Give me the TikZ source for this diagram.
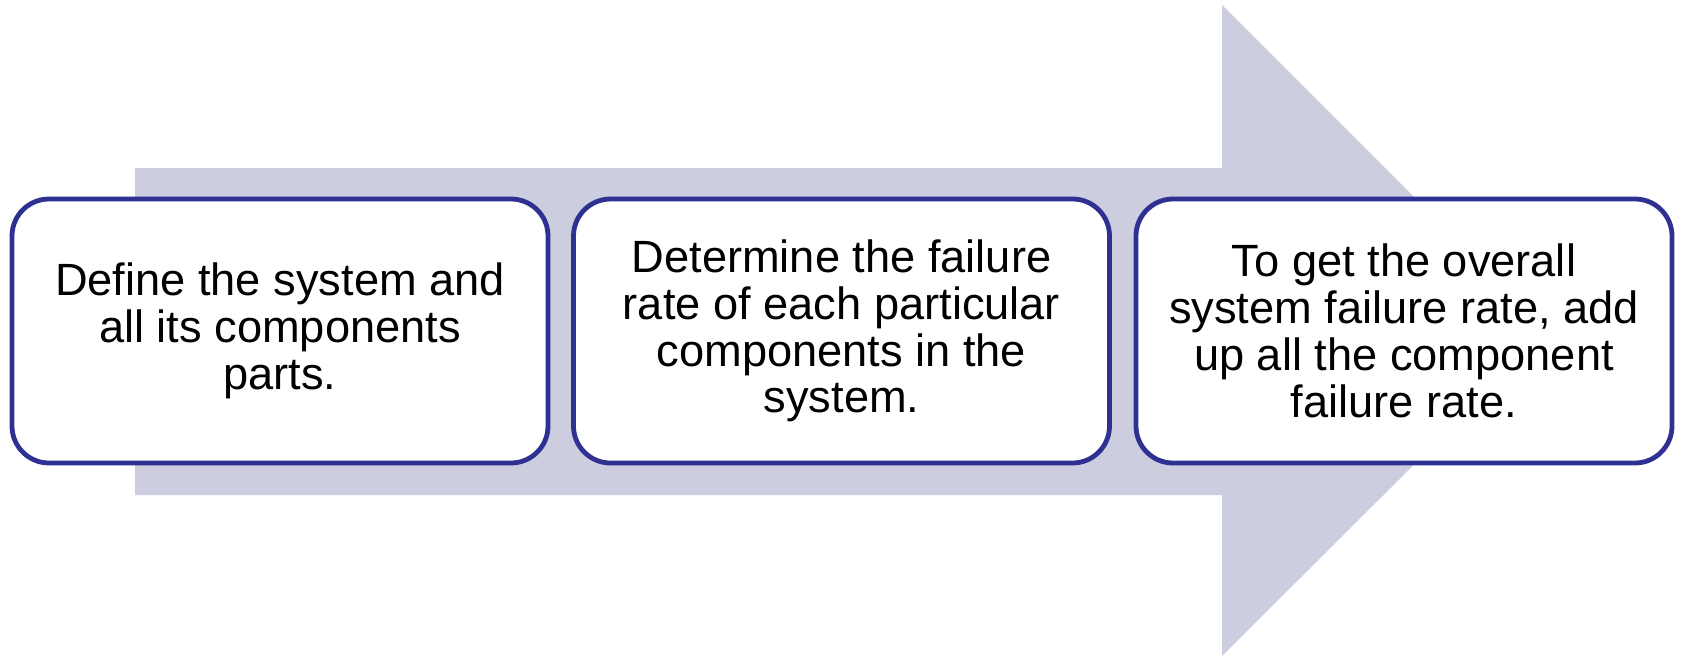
\documentclass[tikz,border=0pt]{standalone}
\usepackage{fontspec}
\setmainfont{Liberation Sans}
\definecolor{arrowfill}{HTML}{CDCDE0}
\definecolor{boxline}{HTML}{2E3192}
\begin{document}
\begin{tikzpicture}[x=0.5pt,y=-0.5pt,
  stepbox/.style={draw=boxline,line width=2.4pt,fill=white,rounded corners=18.5pt,
    minimum width=268pt,minimum height=132pt,inner sep=0pt,
    align=center,font=\fontsize{22.6pt}{23.4pt}\selectfont},
  bigarrow/.style={fill=arrowfill,draw=none}]
\useasboundingbox (0,0) rectangle (1681,659);
\fill[bigarrow] (135,168) -- (1222,168) -- (1222,5) -- (1548,331) -- (1222,656) -- (1222,495) -- (135,495) -- cycle;
\node[stepbox] (s1) at (280,331) {Define the system and\\all its components\\parts.};
\node[stepbox] (s2) at (841.5,331) {Determine the failure\\rate of each particular\\components in the\\system.};
\node[stepbox] (s3) at (1404,331) {To get the overall\\system failure rate, add\\up all the component\\failure rate.};
\end{tikzpicture}
\end{document}
